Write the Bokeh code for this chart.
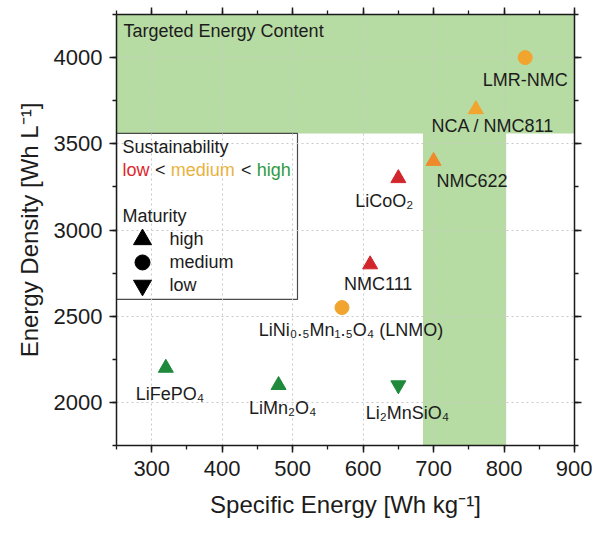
from bokeh.plotting import figure
from bokeh.models import (Range1d, LinearAxis, SingleIntervalTicker, Label,
                          ColumnDataSource)
from bokeh.embed import file_html
from bokeh.resources import INLINE

# ---------------- data ----------------
materials = ["LiFePO₄", "LiMn₂O₄", "Li₂MnSiO₄", "LiNi₀.₅Mn₁.₅O₄ (LNMO)",
             "NMC111", "LiCoO₂", "NMC622", "NCA / NMC811", "LMR-NMC"]
specific_energy = [320, 480, 650, 570, 610, 650, 700, 760, 830]      # Wh/kg
energy_density = [2200, 2100, 2100, 2550, 2800, 3300, 3400, 3700, 4000]  # Wh/L
sustainability = ["high", "high", "high", "medium", "low", "low",
                  "low-medium", "medium", "medium"]
maturity = ["high", "high", "low", "medium", "high", "high", "high", "high",
            "medium"]

# targeted energy content region
target_specific_energy = [685, 803]
target_energy_density_min = 3560

x_ticks = [300, 400, 500, 600, 700, 800, 900]
y_ticks = [2000, 2500, 3000, 3500, 4000]

# ---------------- styles ----------------
FONT = "Liberation Sans"
TEXT = "#1c1c1c"
GREEN_FILL = "#b6dba3"
COLORS = {"low": "#d2262d", "low-medium": "#ee8a2c", "medium": "#f1a52f",
          "high": "#1f8a3c"}
MARKERS = {"high": "triangle", "medium": "circle", "low": "inverted_triangle"}
SIZES = {"high": 15, "medium": 14, "low": 15}

# label placement relative to each point (px right, px down, align)
label_offsets = [(4, 26, "center"), (4, 23, "center"), (9, 28, "center"),
                 (9, 22, "center"), (8, 20, "center"), (-14, 23, "center"),
                 (3, 20, "left"), (17, 17, "center"), (0, 22, "center")]

W, H = 592, 523
ML, MR, MT, MB = 116, 18, 14, 78
X0, X1 = 250, 900
Y0, Y1 = 1750, 4250
FW = W - ML - MR
FH = H - MT - MB


def px_to_x(px):
    return X0 + px * (X1 - X0) / FW


def px_to_y(py):
    return Y1 - py * (Y1 - Y0) / FH


p = figure(width=W, height=H, x_range=Range1d(X0, X1), y_range=Range1d(Y0, Y1),
           output_backend="svg", toolbar_location=None,
           min_border_left=ML, min_border_right=MR, min_border_top=MT,
           min_border_bottom=MB,
           x_axis_label="Specific Energy [Wh kg⁻¹]",
           y_axis_label="Energy Density [Wh L⁻¹]")
p.background_fill_color = "white"
p.border_fill_color = "white"
p.outline_line_color = None

bottom_ax = p.below[0]
left_ax = p.left[0]
bottom_ax.ticker = SingleIntervalTicker(interval=x_ticks[1] - x_ticks[0], num_minor_ticks=2)
left_ax.ticker = SingleIntervalTicker(interval=y_ticks[1] - y_ticks[0], num_minor_ticks=2)

top_ax = LinearAxis(ticker=SingleIntervalTicker(interval=x_ticks[1] - x_ticks[0], num_minor_ticks=2))
right_ax = LinearAxis(ticker=SingleIntervalTicker(interval=y_ticks[1] - y_ticks[0], num_minor_ticks=2))
p.add_layout(top_ax, "above")
p.add_layout(right_ax, "right")

for ax in [bottom_ax, left_ax, top_ax, right_ax]:
    ax.axis_line_color = "#1a1a1a"
    ax.axis_line_width = 1.5
    ax.major_tick_line_color = "#1a1a1a"
    ax.major_tick_line_width = 1.5
    ax.minor_tick_line_color = "#1a1a1a"
    ax.minor_tick_line_width = 1.3
    ax.major_tick_out = 7
    ax.major_tick_in = 0
    ax.minor_tick_out = 4
    ax.minor_tick_in = 0
    ax.major_label_text_font = FONT
    ax.major_label_text_font_size = "22px"
    ax.major_label_text_color = TEXT
    ax.axis_label_text_font = FONT
    ax.axis_label_text_font_size = "24px"
    ax.axis_label_text_font_style = "normal"
    ax.axis_label_text_color = TEXT

for ax in [top_ax, right_ax]:
    ax.major_label_text_font_size = "0px"
    ax.major_label_text_color = None
    ax.major_label_standoff = 0

bottom_ax.major_label_standoff = 8
bottom_ax.axis_label_standoff = 12
left_ax.major_label_standoff = 7
left_ax.axis_label_standoff = 8

for g in (p.xgrid[0], p.ygrid[0]):
    g.grid_line_color = "#c9c9c9"
    g.grid_line_dash = "2 3"
    g.grid_line_width = 1

# targeted region (drawn beneath the grid)
p.quad(left=[X0, target_specific_energy[0]], right=[X1, target_specific_energy[1]],
       bottom=[target_energy_density_min, Y0], top=[Y1, Y1],
       fill_color=GREEN_FILL, line_color=None, level="image")

p.add_layout(Label(x=X0, y=Y1, x_offset=7, y_offset=-16, text="Targeted Energy Content",
                   text_align="left", text_baseline="middle", text_font=FONT,
                   text_font_size="18px", text_color=TEXT))

# ---------------- legend box ----------------
leg_top_px = (Y1 - target_energy_density_min) * FH / (Y1 - Y0)
p.quad(left=[X0], right=[px_to_x(181)], top=[target_energy_density_min],
       bottom=[px_to_y(leg_top_px + 166)], fill_color="white",
       line_color="#4a4a4a", line_width=1.2, level="underlay")

p.add_layout(Label(x=X0, y=target_energy_density_min, x_offset=6, y_offset=-14,
                   text="Sustainability", text_align="left", text_baseline="middle",
                   text_font=FONT, text_font_size="18px", text_color=TEXT))

FS = 18.3
seg_texts = ["low", "<", "medium", "<", "high"]
seg_colors = ["#e0262d", TEXT, "#eab23e", TEXT, "#2f9a45"]
seg_em = [1.5 + 0.278, 0.584 + 0.278, 3.556 + 0.278, 0.584 + 0.278, 1.89]
xo = 6.0
for t, c, em in zip(seg_texts, seg_colors, seg_em):
    p.add_layout(Label(x=X0, y=target_energy_density_min, x_offset=xo, y_offset=-37,
                       text=t, text_align="left", text_baseline="middle",
                       text_font=FONT, text_font_size="18px", text_color=c))
    xo += em * FS

p.add_layout(Label(x=X0, y=target_energy_density_min, x_offset=6, y_offset=-83,
                   text="Maturity", text_align="left", text_baseline="middle",
                   text_font=FONT, text_font_size="18px", text_color=TEXT))

leg_levels = ["high", "medium", "low"]
leg_dy = [106, 129, 152]
leg_sizes = [18, 15, 18]
leg_src = ColumnDataSource(dict(
    x=[px_to_x(26)] * 3,
    y=[px_to_y(leg_top_px + d) for d in leg_dy],
    marker=[MARKERS[m] for m in leg_levels],
    size=leg_sizes))
p.scatter("x", "y", source=leg_src, marker="marker", size="size",
          fill_color="black", line_color="black")
for lvl, d in zip(leg_levels, leg_dy):
    p.add_layout(Label(x=X0, y=target_energy_density_min, x_offset=53, y_offset=-d,
                       text=lvl, text_align="left", text_baseline="middle",
                       text_font=FONT, text_font_size="18px", text_color=TEXT))

# ---------------- data points ----------------
src = ColumnDataSource(dict(
    x=specific_energy, y=energy_density,
    color=[COLORS[s] for s in sustainability],
    marker=[MARKERS[m] for m in maturity],
    size=[SIZES[m] for m in maturity]))
p.scatter("x", "y", source=src, marker="marker", size="size",
          fill_color="color", line_color="color")

for name, x, y, (dx, dy, align) in zip(materials, specific_energy, energy_density,
                                        label_offsets):
    p.add_layout(Label(x=x, y=y, x_offset=dx, y_offset=-dy, text=name,
                       text_align=align, text_baseline="middle", text_font=FONT,
                       text_font_size="18px", text_color=TEXT))

open("out.html", "w").write(file_html(p, INLINE))
